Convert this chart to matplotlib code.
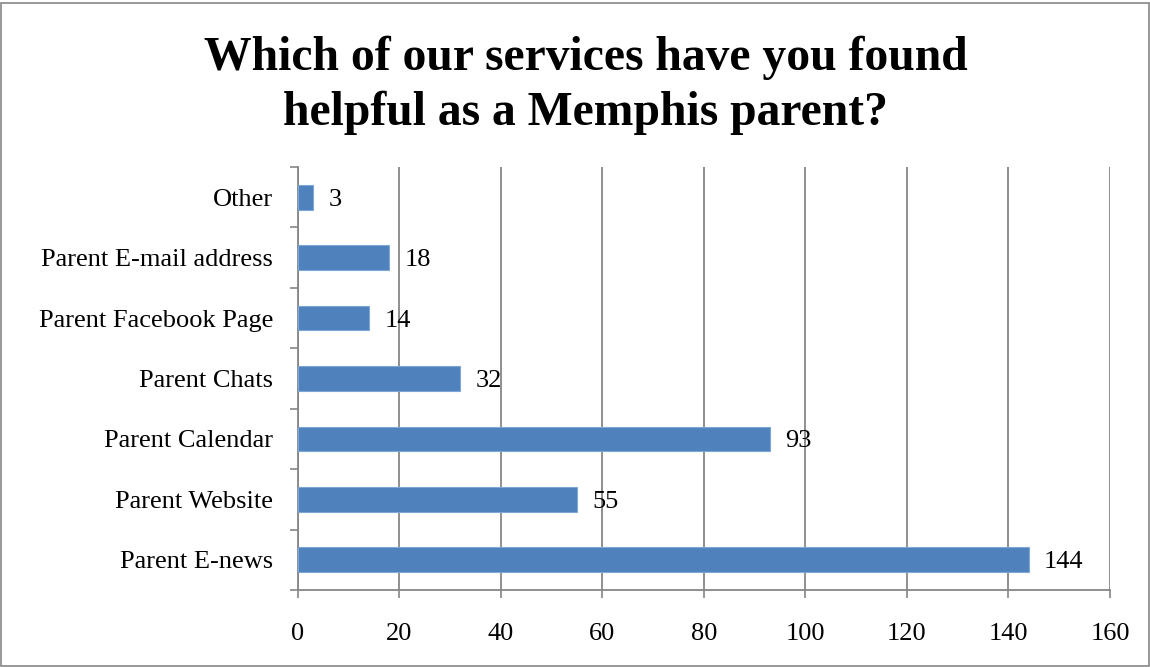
import matplotlib.pyplot as plt
from matplotlib.patches import Rectangle

categories = ["Parent E-news", "Parent Website", "Parent Calendar", "Parent Chats",
              "Parent Facebook Page", "Parent E-mail address", "Other"]
counts = [144, 55, 93, 32, 14, 18, 3]
xticks = [0, 20, 40, 60, 80, 100, 120, 140, 160]

plt.rcParams['font.family'] = ['Liberation Serif', 'DejaVu Serif']

fig = plt.figure(figsize=(11.5, 6.67), dpi=100)
ax = fig.add_axes([0.2591, 0.1154, 0.7061, 0.6342])

grey = '#868686'
bar_color = '#4F81BD'

ypos = list(range(len(categories)))
ax.barh(ypos, counts, height=0.41, color=bar_color, edgecolor='#7EA6D6', linewidth=0.8, zorder=3)

for y, v in zip(ypos, counts):
    ax.annotate(str(v), (v, y), xytext=(11, 0), textcoords='offset points',
                va='center_baseline', ha='left', fontsize=19, zorder=4)

ax.set_xlim(0, 160)
ax.set_ylim(-0.5, len(categories) - 0.5)
ax.set_xticks(xticks)
ax.set_xticklabels([str(t) for t in xticks], fontsize=19)
ax.set_yticks(ypos)
ax.set_yticklabels(categories, fontsize=19)
ax.tick_params(axis='y', length=0, pad=18)
ax.tick_params(axis='x', length=6, color=grey, width=1.2, pad=18, direction='out')

# category separator ticks on the y axis
ax.set_yticks([i - 0.5 for i in range(len(categories) + 1)], minor=True)
ax.tick_params(axis='y', which='minor', length=6, color=grey, width=1.2, direction='out')

ax.grid(axis='x', color=grey, linewidth=1.3, zorder=0)
for side in ['top', 'right']:
    ax.spines[side].set_visible(False)
for side in ['left', 'bottom']:
    ax.spines[side].set_color(grey)
    ax.spines[side].set_linewidth(1.3)

fig.text(0.509, 0.872, "Which of our services have you found\nhelpful as a Memphis parent?",
         ha='center', va='center', fontsize=34.3, fontweight='bold', linespacing=1.3)

fig.patches.append(Rectangle((0.001, 0.001), 0.998, 0.994, transform=fig.transFigure,
                             fill=False, edgecolor=grey, linewidth=1.2))

fig.savefig('out.png', dpi=100)
